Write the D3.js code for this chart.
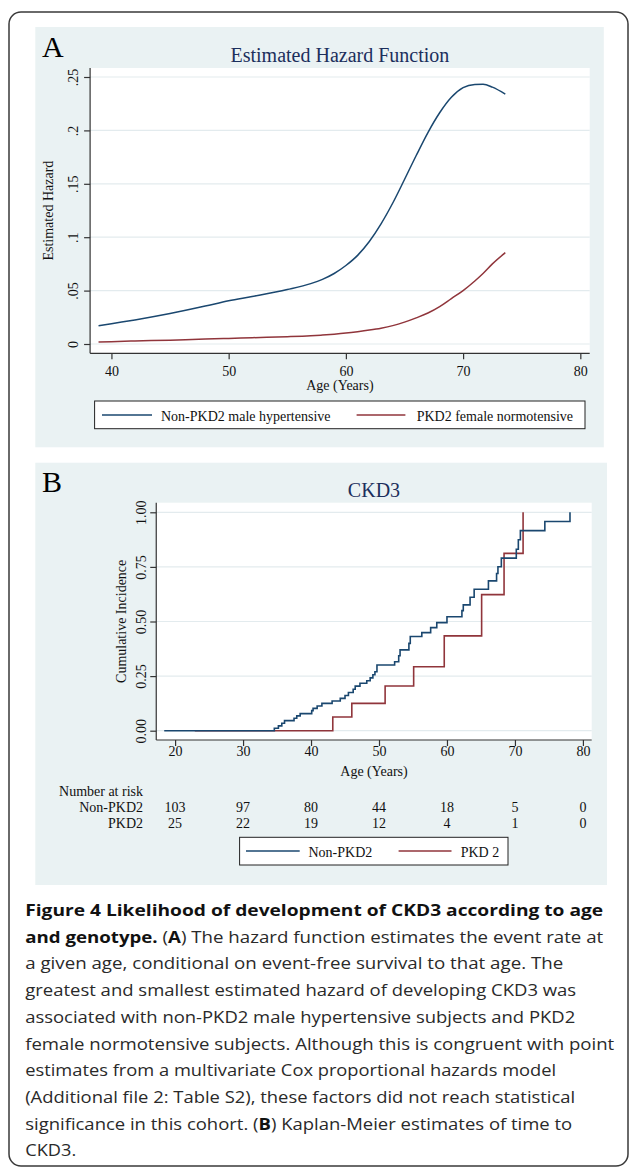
<!DOCTYPE html>
<html>
<head>
<meta charset="utf-8">
<script src="https://cdn.jsdelivr.net/npm/d3@7"></script>
<style>
  body { margin: 0; background: #fff; }
  svg { display: block; }
</style>
</head>
<body>
<div id="chart"></div>
<script>
// Panel A: estimated hazard function
const hazardAges    = [38.9, 40, 42, 45, 48, 50, 52, 55, 57, 58, 59, 60, 61, 62, 63, 64, 65, 66, 67, 68, 69, 70, 71, 71.7, 72.5, 73.6];
const hazardNonPkd2 = [0.0170, 0.0190, 0.0225, 0.0285, 0.0355, 0.0405, 0.0445, 0.0510, 0.0565, 0.0605, 0.0660, 0.0735, 0.0830, 0.0960, 0.1125, 0.1320, 0.1540, 0.1765, 0.1980, 0.2165, 0.2310, 0.2400, 0.2430, 0.2432, 0.2405, 0.2340];
const hazardPkd2    = [0.0018, 0.0022, 0.0028, 0.0036, 0.0046, 0.0052, 0.0059, 0.0068, 0.0077, 0.0084, 0.0092, 0.0102, 0.0115, 0.0130, 0.0148, 0.0172, 0.0205, 0.0245, 0.0290, 0.0350, 0.0425, 0.0500, 0.0590, 0.0660, 0.0750, 0.0855];
const hazardTicks = [0, 0.05, 0.1, 0.15, 0.2, 0.25];
const hazardAgeTicks = [40, 50, 60, 70, 80];

// Panel B: Kaplan-Meier cumulative incidence of CKD3
const kmNonPkd2Ages   = [18.4, 34.6, 35.2, 35.7, 36.1, 37.5, 37.9, 38.4, 40.1, 40.3, 40.9, 41.6, 43.1, 44.3, 45.0, 45.5, 46.2, 46.5, 47.2, 48.2, 48.7, 49.1, 49.4, 49.7, 52.3, 52.9, 53.1, 54.4, 54.6, 56.3, 57.6, 58.5, 60.0, 62.2, 62.4, 63.4, 64.0, 66.1, 67.3, 67.5, 68.0, 70.2, 70.5, 70.8, 74.4, 78.1];
const kmNonPkd2Values = [0, 0.011, 0.022, 0.034, 0.046, 0.057, 0.068, 0.078, 0.092, 0.102, 0.113, 0.125, 0.136, 0.148, 0.161, 0.175, 0.190, 0.204, 0.217, 0.229, 0.242, 0.256, 0.270, 0.301, 0.316, 0.343, 0.370, 0.400, 0.431, 0.449, 0.472, 0.495, 0.522, 0.550, 0.576, 0.611, 0.648, 0.686, 0.720, 0.751, 0.790, 0.831, 0.874, 0.916, 0.958, 1.0];
const kmPkd2Ages   = [22.9, 43.2, 46.0, 50.9, 55.1, 59.6, 65.1, 68.4, 71.2];
const kmPkd2Values = [0, 0.0625, 0.125, 0.205, 0.293, 0.434, 0.623, 0.812, 1.0];
const kmTicks = [0, 0.25, 0.5, 0.75, 1];
const kmAgeTicks = [20, 30, 40, 50, 60, 70, 80];

// Number at risk table
const riskNonPkd2 = [103, 97, 80, 44, 18, 5, 0];
const riskPkd2 = [25, 22, 19, 12, 4, 1, 0];

const legendA = ['Non-PKD2 male hypertensive', 'PKD2 female normotensive'];
const legendB = ['Non-PKD2', 'PKD 2'];

// caption: each line is a list of [text, bold]
const captionLines = [
  [['Figure 4 Likelihood of development of CKD3 according to age', true]],
  [['and genotype.', true], [' (', false], ['A', true], [') The hazard function estimates the event rate at', false]],
  [['a given age, conditional on event-free survival to that age. The', false]],
  [['greatest and smallest estimated hazard of developing CKD3 was', false]],
  [['associated with non-PKD2 male hypertensive subjects and PKD2', false]],
  [['female normotensive subjects. Although this is congruent with point', false]],
  [['estimates from a multivariate Cox proportional hazards model', false]],
  [['(Additional file 2: Table S2), these factors did not reach statistical', false]],
  [['significance in this cohort. (', false], ['B', true], [') Kaplan-Meier estimates of time to', false]],
  [['CKD3.', false]]
];
const captionWidths = [578, 578, 538, 551, 550, 589, 531, 550, 547, 51];

const NAVY = '#1a476f';
const MAROON = '#90353b';
const BG = '#eaf2f3';
const GRID = '#e3ebee';
const SERIF = '"Liberation Serif", "Times New Roman", serif';

const svg = d3.select('#chart')
  .append('svg')
  .attr('width', 629)
  .attr('height', 1168);

// outer frame
svg.append('rect')
  .attr('x', 9).attr('y', 12)
  .attr('width', 619).attr('height', 1154)
  .attr('rx', 12)
  .attr('fill', '#fff')
  .attr('stroke', '#3a3a3a')
  .attr('stroke-width', 1.5);

function text(x, y, str, size, opts = {}) {
  return svg.append('text')
    .attr('x', x).attr('y', y)
    .attr('font-family', opts.family || SERIF)
    .attr('font-size', size)
    .attr('fill', opts.fill || '#111')
    .attr('text-anchor', opts.anchor || 'start')
    .text(str);
}

function vtext(x, y, str, size) {
  return svg.append('text')
    .attr('transform', `translate(${x},${y}) rotate(-90)`)
    .attr('font-family', SERIF)
    .attr('font-size', size)
    .attr('fill', '#111')
    .attr('text-anchor', 'middle')
    .text(str);
}

// draws grid + axes for one panel
function drawAxes(box, x, y, xTicks, yTicks, yFmt, yLabelOff, xLabelBase) {
  svg.append('rect')
    .attr('x', box.left).attr('y', box.top)
    .attr('width', box.right - box.left).attr('height', box.bottom - box.top)
    .attr('fill', '#fff');

  svg.append('g').selectAll('line')
    .data(yTicks)
    .join('line')
    .attr('x1', box.left).attr('x2', box.right)
    .attr('y1', d => y(d)).attr('y2', d => y(d))
    .attr('stroke', GRID)
    .attr('stroke-width', 1.2);

  const gy = svg.append('g')
    .attr('transform', `translate(${box.left},0)`)
    .call(d3.axisLeft(y).tickValues(yTicks).tickFormat(yFmt).tickSize(6).tickSizeOuter(0));
  gy.select('.domain').attr('d', `M0,${box.top}V${box.bottom}`);
  gy.selectAll('line, path').attr('stroke', '#333').attr('stroke-width', 1.2);
  gy.selectAll('text')
    .attr('transform', 'rotate(-90)')
    .attr('x', 0).attr('y', -yLabelOff).attr('dy', 0)
    .attr('text-anchor', 'middle')
    .attr('font-family', SERIF).attr('font-size', 14).attr('fill', '#111');

  const gx = svg.append('g')
    .attr('transform', `translate(0,${box.bottom})`)
    .call(d3.axisBottom(x).tickValues(xTicks).tickSize(6).tickSizeOuter(0));
  gx.select('.domain').attr('d', `M${box.left},0H${box.right}`);
  gx.selectAll('line, path').attr('stroke', '#333').attr('stroke-width', 1.2);
  gx.selectAll('text')
    .attr('y', xLabelBase).attr('dy', 0)
    .attr('font-family', SERIF).attr('font-size', 14).attr('fill', '#111');
}

function legend(box, items, colors) {
  svg.append('rect')
    .attr('x', box.x).attr('y', box.y)
    .attr('width', box.w).attr('height', box.h)
    .attr('fill', '#fff')
    .attr('stroke', '#222')
    .attr('stroke-width', 1);
  items.forEach((label, i) => {
    const it = box.items[i];
    svg.append('line')
      .attr('x1', it.x1).attr('x2', it.x2)
      .attr('y1', box.lineY).attr('y2', box.lineY)
      .attr('stroke', colors[i]).attr('stroke-width', 1.5);
    text(it.tx, box.textY, label, 14);
  });
}

// ---------- Panel A ----------
svg.append('rect')
  .attr('x', 35.3).attr('y', 27)
  .attr('width', 568.5).attr('height', 420.3)
  .attr('fill', BG);

const boxA = { left: 90.1, right: 589.7, top: 68, bottom: 353.3 };
const xA = d3.scaleLinear().domain([38.18, 80.8]).range([boxA.left, boxA.right]);
const yA = d3.scaleLinear().domain([0, 0.25]).range([344, 77]);

drawAxes(boxA, xA, yA, hazardAgeTicks, hazardTicks,
  d => d === 0 ? '0' : d3.format('~g')(d).replace(/^0/, ''), 12, 22.8);

const hazardLine = series => d3.line()
  .x((d, i) => xA(hazardAges[i]))
  .y(d => yA(d))
  .curve(d3.curveMonotoneX)(series);

svg.append('path')
  .attr('d', hazardLine(hazardNonPkd2))
  .attr('fill', 'none').attr('stroke', NAVY).attr('stroke-width', 1.5);
svg.append('path')
  .attr('d', hazardLine(hazardPkd2))
  .attr('fill', 'none').attr('stroke', MAROON).attr('stroke-width', 1.5);

text(42, 57, 'A', 30, { fill: '#000' });
text((boxA.left + boxA.right) / 2, 62, 'Estimated Hazard Function', 20, { anchor: 'middle', fill: '#1c2f5c' });
vtext(53, (boxA.top + boxA.bottom) / 2, 'Estimated Hazard', 14);
text((boxA.left + boxA.right) / 2, 390, 'Age (Years)', 14, { anchor: 'middle' });

legend({
  x: 94.6, y: 401, w: 490.4, h: 27.7, lineY: 415, textY: 420.7,
  items: [{ x1: 102, x2: 152, tx: 161 }, { x1: 356.6, x2: 405.4, tx: 416.7 }]
}, legendA, [NAVY, MAROON]);

// ---------- Panel B ----------
svg.append('rect')
  .attr('x', 35.3).attr('y', 462.7)
  .attr('width', 571.7).attr('height', 422.3)
  .attr('fill', BG);

const boxB = { left: 156.25, right: 591.7, top: 502.7, bottom: 740 };
const xB = d3.scaleLinear().domain([20, 80]).range([175.1, 582.9]);
const yB = d3.scaleLinear().domain([0, 1]).range([730.7, 512.3]);

drawAxes(boxB, xB, yB, kmAgeTicks, kmTicks, d3.format('.2f'), 10, 16);

const kmLine = (ages, values) => d3.line()
  .x((d, i) => xB(ages[i]))
  .y(d => yB(d))
  .curve(d3.curveStepAfter)(values);

svg.append('path')
  .attr('d', kmLine(kmPkd2Ages, kmPkd2Values))
  .attr('fill', 'none').attr('stroke', MAROON).attr('stroke-width', 1.6);
svg.append('path')
  .attr('d', kmLine(kmNonPkd2Ages, kmNonPkd2Values))
  .attr('fill', 'none').attr('stroke', NAVY).attr('stroke-width', 1.6);

text(42, 491.5, 'B', 30, { fill: '#000' });
text((boxB.left + boxB.right) / 2, 496.7, 'CKD3', 20, { anchor: 'middle', fill: '#1c2f5c' });
vtext(125.5, (boxB.top + boxB.bottom) / 2, 'Cumulative Incidence', 14);
text((boxB.left + boxB.right) / 2, 776, 'Age (Years)', 14, { anchor: 'middle' });

// number at risk
text(143, 796, 'Number at risk', 14, { anchor: 'end' });
text(143, 812, 'Non-PKD2', 14, { anchor: 'end' });
text(143, 828.3, 'PKD2', 14, { anchor: 'end' });
svg.append('g').selectAll('text')
  .data(riskNonPkd2)
  .join('text')
  .attr('x', (d, i) => xB(kmAgeTicks[i])).attr('y', 812)
  .attr('text-anchor', 'middle')
  .attr('font-family', SERIF).attr('font-size', 14).attr('fill', '#111')
  .text(d => d);
svg.append('g').selectAll('text')
  .data(riskPkd2)
  .join('text')
  .attr('x', (d, i) => xB(kmAgeTicks[i])).attr('y', 828.3)
  .attr('text-anchor', 'middle')
  .attr('font-family', SERIF).attr('font-size', 14).attr('fill', '#111')
  .text(d => d);

legend({
  x: 239.6, y: 837.3, w: 268.4, h: 27.7, lineY: 851, textY: 856.7,
  items: [{ x1: 246, x2: 299.7, tx: 308.5 }, { x1: 398.6, x2: 451.5, tx: 460.7 }]
}, legendB, [NAVY, MAROON]);

// ---------- Caption ----------
captionLines.forEach((segs, i) => {
  const t = svg.append('text')
    .attr('x', 25.2)
    .attr('y', 916 + i * 26.7)
    .attr('font-family', '"Open Sans", "Noto Sans", sans-serif')
    .attr('font-size', 16.5)
    .attr('fill', '#2a2a2a')
    .attr('textLength', captionWidths[i])
    .attr('lengthAdjust', 'spacingAndGlyphs');
  segs.forEach(([s, bold]) => {
    t.append('tspan')
      .attr('font-weight', bold ? 700 : 400)
      .attr('fill', bold ? '#111' : '#2a2a2a')
      .text(s);
  });
});
</script>
</body>
</html>
